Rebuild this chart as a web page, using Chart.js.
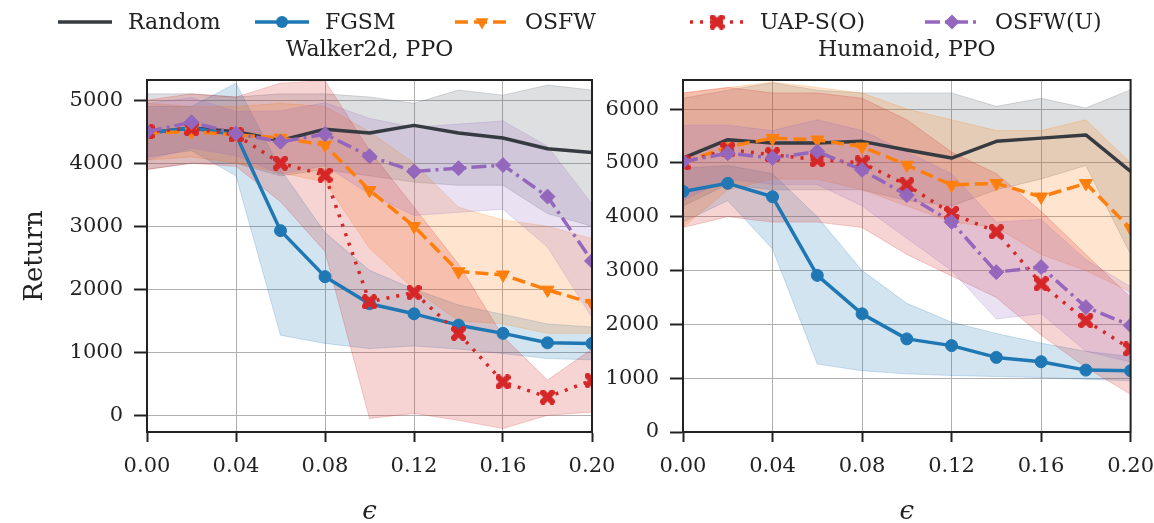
<!DOCTYPE html>
<html><head><meta charset="utf-8">
<script src="https://cdn.jsdelivr.net/npm/chart.js@4.4.1/dist/chart.umd.min.js"></script>
<style>
html,body{margin:0;padding:0;background:#fff;width:1154px;height:523px;overflow:hidden;position:relative;}
#c1{position:absolute;left:0;top:0;}
#c2{position:absolute;left:580px;top:0;}
</style></head><body>
<canvas id="c1" width="1154" height="523"></canvas>
<canvas id="c2" width="586" height="523"></canvas>
<script>
// ---------- data ----------
const eps = [0, 0.02, 0.04, 0.06, 0.08, 0.10, 0.12, 0.14, 0.16, 0.18, 0.20];
const xTicks = [0, 0.04, 0.08, 0.12, 0.16, 0.20];
const walkerYTicks = [0, 1000, 2000, 3000, 4000, 5000];
const humanoidYTicks = [0, 1000, 2000, 3000, 4000, 5000, 6000];
const seriesNames = ['Random', 'FGSM', 'OSFW', 'UAP-S(O)', 'OSFW(U)'];
const panelTitles = ['Walker2d, PPO', 'Humanoid, PPO'];
const yAxisTitle = 'Return';
const xAxisTitle = 'ϵ';

// Walker2d, PPO
const walkerRandom   = [4480, 4560, 4500, 4360, 4540, 4480, 4600, 4480, 4400, 4230, 4170];
const walkerRandomHi = [5100, 5100, 5050, 5100, 5100, 5050, 4950, 5160, 5080, 5240, 5160];
const walkerRandomLo = [3900, 4000, 4000, 3800, 3900, 3800, 3700, 3650, 3650, 3200, 3000];
const walkerFgsm     = [4480, 4560, 4450, 2930, 2200, 1770, 1610, 1430, 1300, 1150, 1140];
const walkerFgsmHi   = [4900, 4900, 5270, 3900, 2900, 2300, 2000, 1750, 1600, 1450, 1400];
const walkerFgsmLo   = [4100, 4200, 3800, 1270, 1140, 1060, 1100, 1050, 980, 900, 880];
const walkerOsfw     = [4480, 4500, 4450, 4400, 4290, 3570, 3000, 2280, 2230, 1990, 1780];
const walkerOsfwHi   = [4950, 4900, 4900, 4950, 4900, 4500, 4000, 3300, 3100, 3000, 2800];
const walkerOsfwLo   = [4050, 4100, 4000, 3850, 3700, 2650, 2000, 1500, 1450, 1300, 1300];
const walkerUap      = [4500, 4550, 4450, 4000, 3810, 1800, 1950, 1300, 530, 290, 555];
const walkerUapHi    = [5000, 5100, 5050, 5270, 5310, 4200, 3300, 2400, 1250, 560, 1050];
const walkerUapLo    = [3900, 4000, 3950, 3390, 2600, -50, 30, -80, -210, 0, 50];
const walkerOsfwu    = [4500, 4650, 4470, 4340, 4460, 4110, 3870, 3920, 3970, 3470, 2450];
const walkerOsfwuHi  = [4950, 5040, 4820, 4830, 4960, 4710, 4570, 4620, 4670, 4270, 3350];
const walkerOsfwuLo  = [4050, 4240, 4120, 3830, 3960, 3510, 3170, 3220, 3270, 2670, 1550];

// Humanoid, PPO
const humRandom   = [5090, 5430, 5370, 5370, 5400, 5240, 5090, 5400, 5460, 5520, 4840];
const humRandomHi = [6200, 6350, 6490, 6350, 6300, 6300, 6300, 6050, 6200, 6020, 6360];
const humRandomLo = [4200, 4600, 4500, 4500, 4500, 4300, 4200, 4500, 4700, 4950, 3300];
const humFgsm     = [4470, 4620, 4370, 2910, 2195, 1730, 1605, 1386, 1306, 1150, 1138];
const humFgsmHi   = [4900, 4950, 4800, 4000, 3000, 2390, 2040, 1830, 1650, 1500, 1400];
const humFgsmLo   = [3900, 4300, 3400, 1263, 1138, 1080, 1050, 1030, 1013, 980, 950];
const humOsfw     = [5000, 5300, 5460, 5430, 5300, 4960, 4590, 4620, 4370, 4620, 3780];
const humOsfwHi   = [6300, 6400, 6500, 6400, 6300, 6000, 5800, 5600, 5600, 5800, 5000];
const humOsfwLo   = [3800, 4500, 4700, 4700, 4500, 4200, 3900, 3800, 3300, 3000, 2600];
const humUap      = [5000, 5250, 5150, 5060, 5000, 4590, 4060, 3720, 2755, 2070, 1543];
const humUapHi    = [6300, 6400, 6300, 6300, 6200, 5800, 5200, 4800, 4100, 3300, 2500];
const humUapLo    = [3800, 4000, 3900, 3900, 3800, 3300, 2900, 2500, 1800, 1200, 700];
const humOsfwu    = [5025, 5180, 5090, 5210, 4870, 4400, 3905, 2970, 3065, 2320, 1980];
const humOsfwuHi  = [5700, 5700, 5600, 5800, 5600, 5200, 4800, 3900, 3950, 3200, 2700];
const humOsfwuLo  = [4300, 4700, 4600, 4600, 4200, 3600, 3000, 2100, 2200, 1500, 1300];

// ---------- styles ----------
const FONT = '"DejaVu Serif", "Liberation Serif", serif';
Chart.defaults.font.family = FONT;
Chart.defaults.color = '#222';

function makeX(color, size) {
  const c = document.createElement('canvas');
  c.width = size; c.height = size;
  const g = c.getContext('2d');
  g.translate(size / 2, size / 2);
  g.rotate(Math.PI / 4);
  g.fillStyle = color;
  const L = size * 0.62, W = size * 0.2;
  g.fillRect(-L, -W, 2 * L, 2 * W);
  g.fillRect(-W, -L, 2 * W, 2 * L);
  return c;
}
const xMarker = makeX('#d62728', 15);

const STYLES = [
  { color: '#363b42', rgb: '90,95,105', dash: [], marker: null, width: 3.5, radius: 0 },
  { color: '#1f77b4', rgb: '31,119,180', dash: [], marker: 'circle', width: 3.5, radius: 6 },
  { color: '#ff7f0e', rgb: '255,127,14', dash: [13, 6], marker: 'triangle', rot: 180, width: 3.5, radius: 7.5 },
  { color: '#d62728', rgb: '214,39,40', dash: [3, 7], marker: xMarker, width: 3.5, radius: 7 },
  { color: '#9467bd', rgb: '148,103,189', dash: [15, 5, 3, 5], marker: 'rectRot', width: 3.5, radius: 7.5 }
];

function pts(arr) { return eps.map((x, i) => ({ x: x, y: arr[i] })); }

function buildDatasets(mean, hi, lo) {
  const ds = [];
  for (let k = 0; k < 5; k++) {
    const st = STYLES[k];
    ds.push({ label: '_hi' + k, data: pts(hi[k]), borderColor: 'rgba(' + st.rgb + ',0.22)', borderWidth: 1,
      pointRadius: 0, fill: false, order: 200 - k, clip: 0, tension: 0 });
    ds.push({ label: '_lo' + k, data: pts(lo[k]), borderColor: 'rgba(' + st.rgb + ',0.22)', borderWidth: 1,
      pointRadius: 0, fill: '-1', backgroundColor: 'rgba(' + st.rgb + ',0.2)', order: 200 - k, clip: 0, tension: 0 });
  }
  for (let k = 0; k < 5; k++) {
    const st = STYLES[k];
    ds.push({ label: seriesNames[k], data: pts(mean[k]), borderColor: st.color, backgroundColor: st.color,
      borderWidth: st.width, borderDash: st.dash, borderCapStyle: 'butt', borderJoinStyle: 'round',
      pointStyle: st.marker || 'circle', pointRadius: st.radius, pointRotation: st.rot || 0,
      pointBackgroundColor: st.color, pointBorderColor: st.color, pointBorderWidth: 1,
      fill: false, tension: 0, order: 10 - k, clip: 0 });
  }
  return ds;
}

const framePlugin = {
  id: 'frame',
  afterDraw(chart, args, opts) {
    const ctx = chart.ctx, a = chart.chartArea;
    ctx.save();
    ctx.strokeStyle = '#222'; ctx.lineWidth = 2;
    ctx.strokeRect(a.left, a.top, a.right - a.left, a.bottom - a.top);
    ctx.fillStyle = '#222';
    ctx.font = '22px ' + FONT;
    ctx.textAlign = 'center'; ctx.textBaseline = 'middle';
    ctx.fillText(opts.title, (a.left + a.right) / 2 + (opts.dx || 0), 50);
    ctx.restore();
  }
};

function drawMarker(ctx, k, x, y) {
  const st = STYLES[k];
  ctx.fillStyle = st.color;
  if (st.marker === 'circle') {
    ctx.beginPath(); ctx.arc(x, y, st.radius, 0, Math.PI * 2); ctx.fill();
  } else if (st.marker === 'triangle') {
    const r = st.radius;
    ctx.beginPath();
    ctx.moveTo(x - r * 0.87, y - r * 0.5); ctx.lineTo(x + r * 0.87, y - r * 0.5); ctx.lineTo(x, y + r); ctx.closePath(); ctx.fill();
  } else if (st.marker === 'rectRot') {
    const r = st.radius;
    ctx.beginPath();
    ctx.moveTo(x, y - r); ctx.lineTo(x + r, y); ctx.lineTo(x, y + r); ctx.lineTo(x - r, y); ctx.closePath(); ctx.fill();
  } else if (st.marker) {
    ctx.drawImage(st.marker, x - st.marker.width / 2, y - st.marker.height / 2);
  }
}

const legendPlugin = {
  id: 'topLegend',
  afterDraw(chart) {
    const ctx = chart.ctx;
    const lineStart = [58, 255, 455, 690, 925];
    const y = 22;
    ctx.save();
    ctx.font = '22px ' + FONT;
    ctx.textBaseline = 'middle'; ctx.textAlign = 'left';
    for (let k = 0; k < 5; k++) {
      const st = STYLES[k];
      const x0 = lineStart[k], x1 = x0 + 54;
      ctx.strokeStyle = st.color; ctx.lineWidth = st.width;
      ctx.setLineDash(st.dash); ctx.lineCap = 'butt';
      ctx.beginPath(); ctx.moveTo(x0, y); ctx.lineTo(x1, y); ctx.stroke();
      ctx.setLineDash([]);
      drawMarker(ctx, k, (x0 + x1) / 2, y);
      ctx.fillStyle = '#222';
      ctx.fillText(seriesNames[k], x1 + 16, y + 1);
    }
    ctx.restore();
  }
};

function makeChart(canvas, cfg) {
  return new Chart(canvas, {
    type: 'line',
    data: { datasets: buildDatasets(cfg.mean, cfg.hi, cfg.lo) },
    options: {
      responsive: false, animation: false, devicePixelRatio: 1,
      layout: { padding: cfg.padding },
      plugins: { legend: { display: false }, tooltip: { enabled: false }, frame: { title: cfg.title } },
      scales: {
        x: {
          type: 'linear', min: 0, max: 0.2,
          afterBuildTicks: s => { s.ticks = xTicks.map(v => ({ value: v })); },
          afterFit: s => { s.height = 91; },
          ticks: { autoSkip: false, maxRotation: 0, padding: 12, color: '#222', font: { size: 21 },
            callback: v => Number(v).toFixed(2) },
          grid: { color: '#b0b0b0', lineWidth: 1, tickLength: 10, tickColor: '#222', tickWidth: 2 },
          border: { color: '#222', width: 2 },
          title: { display: true, text: xAxisTitle, color: '#222', font: { size: 26, style: 'italic', lineHeight: 0.8 }, padding: { top: 0, bottom: 0 } }
        },
        y: {
          type: 'linear', min: cfg.yMin, max: cfg.yMax,
          afterBuildTicks: s => { s.ticks = cfg.yTicks.map(v => ({ value: v })); },
          afterFit: s => { s.width = cfg.yWidth; },
          ticks: { autoSkip: false, padding: 11, color: '#222', font: { size: 21 }, callback: v => String(v) },
          grid: { color: '#b0b0b0', lineWidth: 1, tickLength: 13, tickColor: '#222', tickWidth: 2 },
          border: { color: '#222', width: 2 },
          title: { display: !!cfg.yTitle, text: cfg.yTitle || '', color: '#222', font: { size: 26 }, padding: { top: 20, bottom: 0 } }
        }
      }
    },
    plugins: cfg.plugins
  });
}

makeChart(document.getElementById('c1'), {
  mean: [walkerRandom, walkerFgsm, walkerOsfw, walkerUap, walkerOsfwu],
  hi: [walkerRandomHi, walkerFgsmHi, walkerOsfwHi, walkerUapHi, walkerOsfwuHi],
  lo: [walkerRandomLo, walkerFgsmLo, walkerOsfwLo, walkerUapLo, walkerOsfwuLo],
  yTicks: walkerYTicks, yMin: -265, yMax: 5320, yWidth: 147, yTitle: yAxisTitle,
  title: panelTitles[0],
  padding: { left: 0, top: 80, right: 1154 - 592, bottom: 0 },
  plugins: [framePlugin, legendPlugin]
});

makeChart(document.getElementById('c2'), {
  mean: [humRandom, humFgsm, humOsfw, humUap, humOsfwu],
  hi: [humRandomHi, humFgsmHi, humOsfwHi, humUapHi, humOsfwuHi],
  lo: [humRandomLo, humFgsmLo, humOsfwLo, humUapLo, humOsfwuLo],
  yTicks: humanoidYTicks, yMin: 0, yMax: 6540, yWidth: 103, yTitle: null,
  title: panelTitles[1],
  padding: { left: 0, top: 80, right: 12, bottom: 0 },
  plugins: [framePlugin]
});
</script>
</body></html>
